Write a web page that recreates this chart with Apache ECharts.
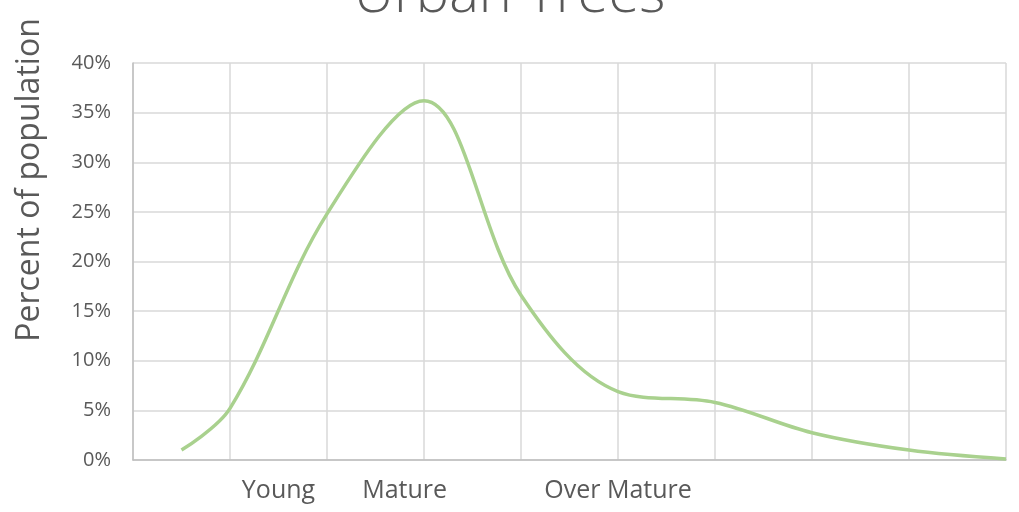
<!DOCTYPE html>
<html>
<head>
<meta charset="utf-8">
<script src="https://cdn.jsdelivr.net/npm/echarts@6/dist/echarts.min.js"></script>
<style>html,body{margin:0;padding:0;background:#fff;}#c{width:1019px;height:512px;}</style>
</head>
<body>
<div id="c"></div>
<script>
const titleText = 'Urban Trees';
const yAxisTitle = 'Percent of population';
const xPositions = [0.5, 1, 2, 3, 4, 5, 6, 7, 8, 9];
const percentValues = [1.0, 5.2, 24.8, 36.2, 16.6, 6.9, 5.8, 2.75, 1.0, 0.1];
const stageLabels = ['Young', 'Mature', 'Over Mature'];
const stagePositions = [1.5, 2.8, 5.0];

const chart = echarts.init(document.getElementById('c'), null, {renderer: 'canvas'});
const font = '"Open Sans", sans-serif';
chart.setOption({
  animation: false,
  backgroundColor: '#fff',
  title: {
    text: titleText, left: 'center', top: -37,
    textStyle: {fontFamily: font, fontSize: 56, fontWeight: 300, color: '#595959'}
  },
  grid: {left: 133, right: 13, top: 63, bottom: 52},
  xAxis: {
    type: 'value', min: 0, max: 9, interval: 1,
    axisLine: {show: true, lineStyle: {color: '#bfbfbf', width: 1.5}},
    axisTick: {show: false},
    splitLine: {show: true, lineStyle: {color: '#d9d9d9', width: 1.5}},
    axisLabel: {
      customValues: stagePositions,
      formatter: function (v) {
        const i = stagePositions.indexOf(v);
        return i >= 0 ? stageLabels[i] : '';
      },
      fontFamily: font, fontSize: 25, color: '#595959', margin: 18
    }
  },
  yAxis: {
    type: 'value', min: 0, max: 40, interval: 5,
    axisLine: {show: true, lineStyle: {color: '#bfbfbf', width: 1.5}},
    axisTick: {show: false},
    splitLine: {show: true, lineStyle: {color: '#d9d9d9', width: 1.5}},
    axisLabel: {formatter: '{value}%', fontFamily: font, fontSize: 20, color: '#595959', margin: 22}
  },
  graphic: [{
    type: 'text', x: 30, y: 180, rotation: Math.PI / 2,
    style: {text: yAxisTitle, fontFamily: font, fontSize: 32, fill: '#595959', align: 'center', verticalAlign: 'middle'}
  }],
  series: [{
    type: 'line',
    data: xPositions.map((x, i) => [x, percentValues[i]]),
    smooth: 0.35,
    showSymbol: false,
    lineStyle: {color: '#a9d18e', width: 3.5}
  }]
});
</script>
</body>
</html>
